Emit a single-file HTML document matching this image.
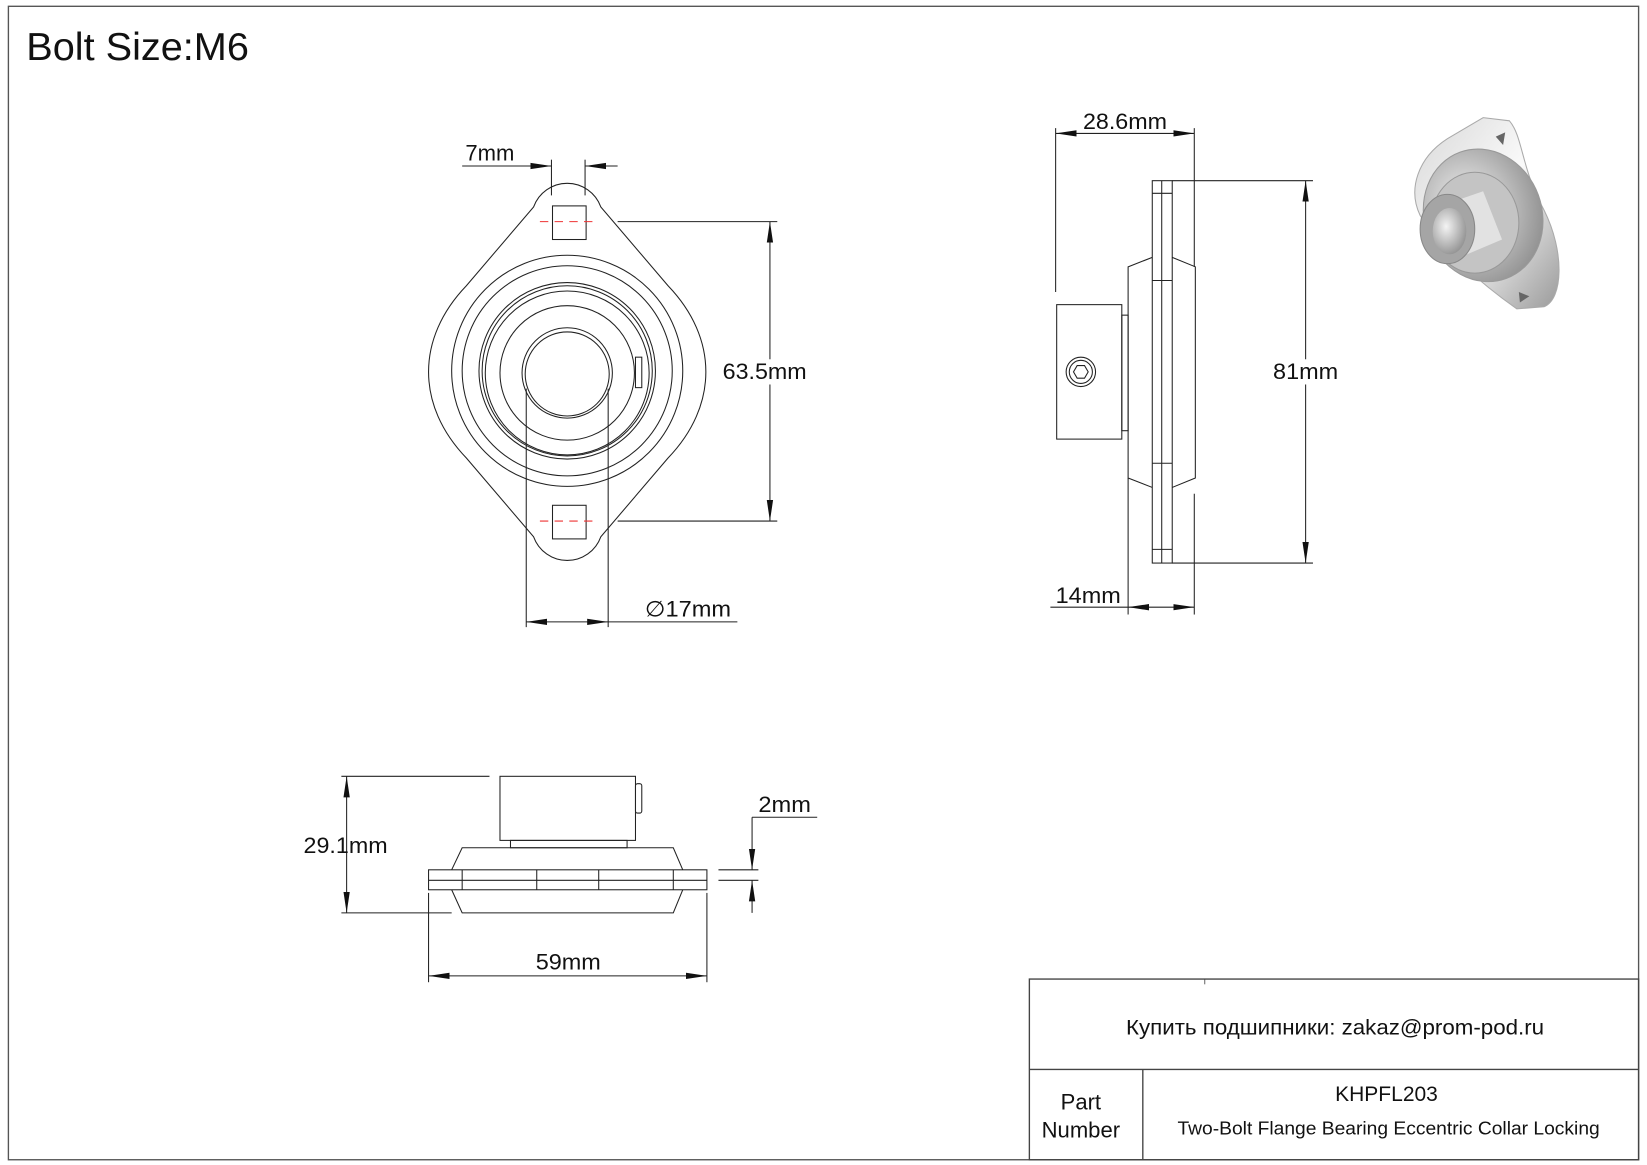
<!DOCTYPE html>
<html><head><meta charset="utf-8"><style>
html,body{margin:0;padding:0;background:#fff}
svg{display:block}
text{font-family:"Liberation Sans","DejaVu Sans",sans-serif;fill:#111}
</style></head><body>
<svg width="1647" height="1165" viewBox="0 0 1568 1109" preserveAspectRatio="none" xmlns="http://www.w3.org/2000/svg">
<defs>
<marker id="a" viewBox="0 0 20 8" refX="20" refY="4" markerWidth="20" markerHeight="8" markerUnits="userSpaceOnUse" orient="auto-start-reverse"><path d="M0,1 L20,4 L0,7 Z" fill="#111"/></marker>
<radialGradient id="g1" cx="40%" cy="40%" r="70%"><stop offset="0" stop-color="#f4f4f4"/><stop offset="1" stop-color="#8a8a8a"/></radialGradient>
<linearGradient id="g2" x1="0" y1="0" x2="1" y2="1"><stop offset="0" stop-color="#d8d8d8"/><stop offset=".5" stop-color="#fafafa"/><stop offset="1" stop-color="#9a9a9a"/></linearGradient>
</defs>
<rect x="8" y="6" width="1552" height="1098" fill="none" stroke="#555" stroke-width="1.3"/>
<text x="25" y="57" font-size="37" textLength="212" lengthAdjust="spacingAndGlyphs">Bolt Size:M6</text>

<!-- FRONT VIEW -->
<g fill="none" stroke="#222" stroke-width="1">
<path d="M508,197 A34 34 0 0 1 572,197 L636,272 C684,322 684,386 636,436 L572,511 A34 34 0 0 1 508,511 L444,436 C396,386 396,322 444,272 Z"/>
<circle cx="540" cy="353" r="110"/>
<circle cx="540" cy="353" r="100"/>
<circle cx="540" cy="353" r="84"/>
<circle cx="540" cy="353" r="81"/>
<circle cx="540" cy="355" r="78"/>
<circle cx="540" cy="355" r="64"/>
<circle cx="540" cy="355" r="43"/>
<circle cx="540" cy="356" r="40"/>
<rect x="605" y="340" width="6" height="29"/>
<rect x="526" y="196" width="32" height="32"/>
<rect x="526" y="481" width="32" height="32"/>
</g>
<g stroke="#e33" stroke-width="1" stroke-dasharray="8,6"><line x1="514" y1="211" x2="568" y2="211"/><line x1="514" y1="496" x2="568" y2="496"/></g>
<g stroke="#222" stroke-width="1" fill="none">
<line x1="525" y1="152" x2="525" y2="186"/><line x1="557" y1="152" x2="557" y2="186"/>
<line x1="440" y1="158" x2="525" y2="158" marker-end="url(#a)"/><line x1="557" y1="158" x2="588" y2="158" marker-start="url(#a)"/>
<line x1="588" y1="211" x2="740" y2="211"/><line x1="588" y1="496" x2="740" y2="496"/>
<line x1="733" y1="211" x2="733" y2="496" marker-start="url(#a)" marker-end="url(#a)"/>
<line x1="501" y1="370" x2="501" y2="597"/><line x1="579" y1="370" x2="579" y2="597"/>
<line x1="501" y1="592" x2="579" y2="592" marker-start="url(#a)" marker-end="url(#a)"/><line x1="579" y1="592" x2="702" y2="592"/>
</g>
<rect x="688" y="342" width="80" height="24" fill="#fff"/>
<text x="443" y="153" font-size="21">7mm</text>
<text x="688" y="361" font-size="21" textLength="80" lengthAdjust="spacingAndGlyphs">63.5mm</text>
<text x="614" y="587" font-size="21" textLength="82" lengthAdjust="spacingAndGlyphs">∅17mm</text>

<!-- SIDE VIEW -->
<g fill="none" stroke="#222" stroke-width="1">
<rect x="1097" y="172" width="19" height="364"/>
<line x1="1106" y1="172" x2="1106" y2="536"/>
<line x1="1097" y1="184" x2="1116" y2="184"/><line x1="1097" y1="267" x2="1116" y2="267"/>
<line x1="1097" y1="441" x2="1116" y2="441"/><line x1="1097" y1="523" x2="1116" y2="523"/>
<path d="M1097,245 L1074,254 L1074,455 L1097,464"/>
<path d="M1116,245 L1138,254 L1138,455 L1116,464"/>
<rect x="1006" y="290" width="62" height="128"/>
<rect x="1068" y="300" width="6" height="110"/>
<circle cx="1029" cy="354" r="14"/><circle cx="1029" cy="354" r="11"/>
<polygon points="1022,354 1025.5,348 1032.5,348 1036,354 1032.5,360 1025.5,360"/>
<line x1="1005" y1="122" x2="1005" y2="278"/><line x1="1137" y1="122" x2="1137" y2="254"/>
<line x1="1005" y1="127" x2="1137" y2="127" marker-start="url(#a)" marker-end="url(#a)"/>
<line x1="1116" y1="172" x2="1250" y2="172"/><line x1="1116" y1="536" x2="1250" y2="536"/>
<line x1="1243" y1="172" x2="1243" y2="536" marker-start="url(#a)" marker-end="url(#a)"/>
<line x1="1074" y1="455" x2="1074" y2="585"/><line x1="1137" y1="470" x2="1137" y2="585"/>
<line x1="1000" y1="578" x2="1074" y2="578"/>
<line x1="1074" y1="578" x2="1137" y2="578" marker-start="url(#a)" marker-end="url(#a)"/>
</g>
<rect x="1212" y="342" width="62" height="24" fill="#fff"/>
<text x="1031" y="123" font-size="21" textLength="80" lengthAdjust="spacingAndGlyphs">28.6mm</text>
<text x="1212" y="361" font-size="21" textLength="62" lengthAdjust="spacingAndGlyphs">81mm</text>
<text x="1005" y="574" font-size="21" textLength="62" lengthAdjust="spacingAndGlyphs">14mm</text>

<!-- 3D -->
<g>
<path d="M1412,112 L1437,115 C1450,130 1448,160 1470,200 C1490,240 1488,285 1470,292 L1444,294 C1410,270 1370,235 1352,205 C1340,180 1350,150 1378,132 Z" fill="url(#g2)" stroke="#aaa"/>
<ellipse cx="1412" cy="205" rx="56" ry="64" fill="url(#g1)" stroke="#999" transform="rotate(-20 1412 205)"/>
<ellipse cx="1404" cy="212" rx="42" ry="48" fill="#c4c4c4" stroke="#999"/>
<path d="M1360,200 L1412,182 L1430,228 L1378,250 Z" fill="#e2e2e2"/>
<ellipse cx="1378" cy="218" rx="26" ry="33" fill="#a5a5a5" stroke="#888"/>
<ellipse cx="1380" cy="220" rx="16" ry="22" fill="url(#g1)"/>
<polygon points="1424,130 1433,126 1431,138" fill="#666"/>
<polygon points="1446,278 1456,282 1447,288" fill="#666"/>
</g>

<!-- BOTTOM VIEW -->
<g fill="none" stroke="#222" stroke-width="1">
<rect x="476" y="739" width="129" height="61"/>
<rect x="605" y="746" width="6" height="28" rx="2"/>
<rect x="486" y="800" width="111" height="7"/>
<path d="M430,828 L440,807 L641,807 L650,828"/>
<rect x="408" y="828" width="265" height="19"/>
<line x1="408" y1="838" x2="673" y2="838"/>
<line x1="440" y1="828" x2="440" y2="847"/><line x1="511" y1="828" x2="511" y2="847"/>
<line x1="570" y1="828" x2="570" y2="847"/><line x1="641" y1="828" x2="641" y2="847"/>
<path d="M430,847 L440,869 L641,869 L650,847"/>
<line x1="325" y1="739" x2="466" y2="739"/><line x1="325" y1="869" x2="430" y2="869"/>
<line x1="330" y1="739" x2="330" y2="869" marker-start="url(#a)" marker-end="url(#a)"/>
<line x1="684" y1="828" x2="722" y2="828"/><line x1="684" y1="838" x2="722" y2="838"/>
<line x1="716" y1="778" x2="716" y2="828" marker-end="url(#a)"/>
<line x1="716" y1="838" x2="716" y2="869" marker-start="url(#a)"/>
<line x1="716" y1="778" x2="778" y2="778"/>
<line x1="408" y1="850" x2="408" y2="935"/><line x1="673" y1="850" x2="673" y2="935"/>
<line x1="408" y1="929" x2="673" y2="929" marker-start="url(#a)" marker-end="url(#a)"/>
</g>
<text x="289" y="812" font-size="21" textLength="80" lengthAdjust="spacingAndGlyphs">29.1mm</text>
<text x="722" y="773" font-size="21" textLength="50" lengthAdjust="spacingAndGlyphs">2mm</text>
<text x="510" y="923" font-size="21" textLength="62" lengthAdjust="spacingAndGlyphs">59mm</text>

<!-- TITLE BLOCK -->
<g fill="none" stroke="#444" stroke-width="1.3">
<rect x="980" y="932" width="580" height="172"/>
<line x1="980" y1="1018" x2="1560" y2="1018"/>
<line x1="1088" y1="1018" x2="1088" y2="1104"/>
<line x1="1147" y1="932" x2="1147" y2="937" stroke-width="0.8"/>
</g>
<text x="1072" y="985" font-size="20" textLength="398" lengthAdjust="spacingAndGlyphs">Купить подшипники: zakaz@prom-pod.ru</text>
<text x="1029" y="1056" font-size="21" text-anchor="middle">Part</text>
<text x="1029" y="1083" font-size="21" text-anchor="middle">Number</text>
<text x="1320" y="1048" font-size="20" text-anchor="middle">KHPFL203</text>
<text x="1121" y="1080" font-size="18" textLength="402" lengthAdjust="spacingAndGlyphs">Two-Bolt Flange Bearing Eccentric Collar Locking</text>
</svg>
</body></html>
